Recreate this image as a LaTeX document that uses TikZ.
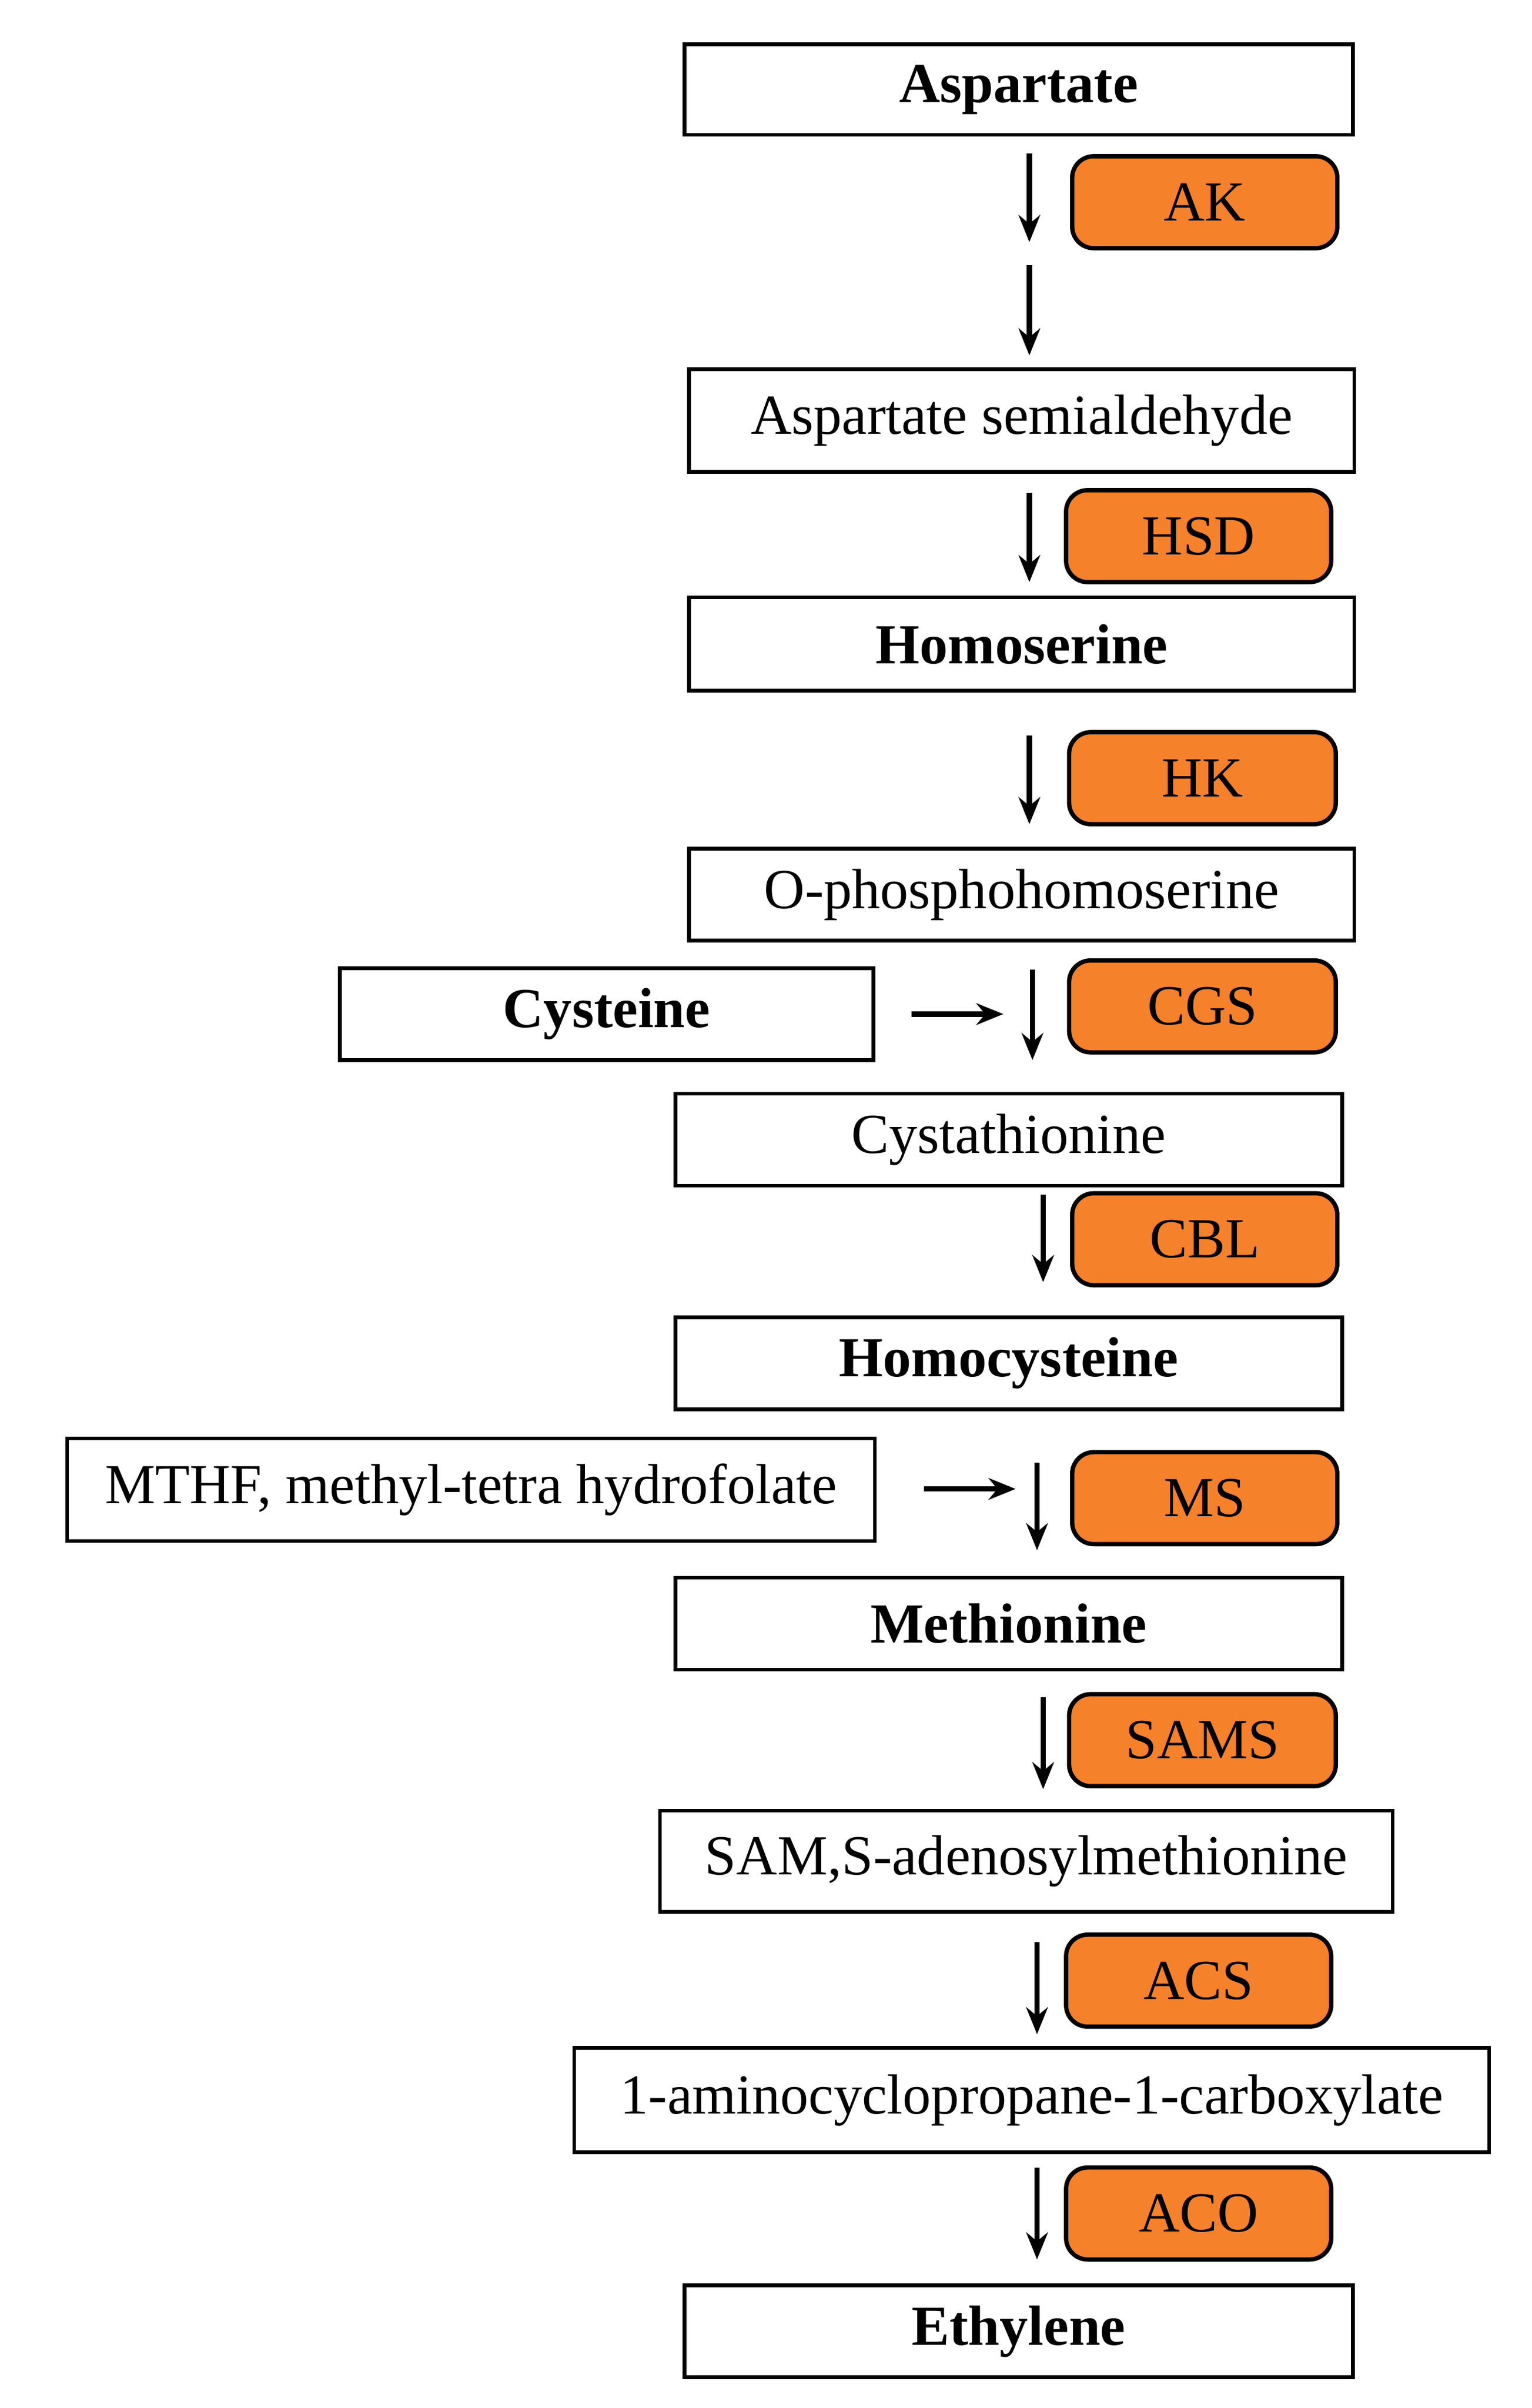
\documentclass[tikz,border=0pt]{standalone}
\usepackage{fontspec}
\setmainfont{Liberation Serif}
\usetikzlibrary{arrows.meta}
\definecolor{enz}{HTML}{F5812A}
\begin{document}
\begin{tikzpicture}[x=0.01cm,y=-0.01cm,
  box/.style={draw,line width=0.7pt,inner sep=0pt,font=\fontsize{10.5}{12}\selectfont},
  enz/.style={box,fill=enz,rounded corners=4pt,line width=0.8pt},
  ar/.style={-{Stealth[length=5pt,width=4pt]},line width=1pt}]
\useasboundingbox (0,0) rectangle (1000,1572);
\node[box,minimum width=4.36cm,minimum height=0.59cm,font=\fontsize{10.5}{12}\selectfont\bfseries] (asp) at (665,58.5) {Aspartate};
\node[enz,minimum width=1.73cm,minimum height=0.6cm] (ak) at (786.5,132) {AK};
\node[box,minimum width=4.34cm,minimum height=0.67cm] (asa) at (667,274.5) {Aspartate semialdehyde};
\node[enz,minimum width=1.73cm,minimum height=0.6cm] (hsd) at (782.5,350) {HSD};
\node[box,minimum width=4.34cm,minimum height=0.61cm,font=\fontsize{10.5}{12}\selectfont\bfseries] (hom) at (667,420.5) {Homoserine};
\node[enz,minimum width=1.74cm,minimum height=0.6cm] (hk) at (785,508) {HK};
\node[box,minimum width=4.34cm,minimum height=0.6cm] (oph) at (667,584) {O-phosphohomoserine};
\node[box,minimum width=3.48cm,minimum height=0.6cm,font=\fontsize{10.5}{12}\selectfont\bfseries] (cys) at (396,662) {Cysteine};
\node[enz,minimum width=1.74cm,minimum height=0.6cm] (cgs) at (785,657) {CGS};
\node[box,minimum width=4.35cm,minimum height=0.6cm] (cysta) at (658.5,744) {Cystathionine};
\node[enz,minimum width=1.73cm,minimum height=0.6cm] (cbl) at (786.5,809) {CBL};
\node[box,minimum width=4.35cm,minimum height=0.6cm,font=\fontsize{10.5}{12}\selectfont\bfseries] (hcy) at (658.5,890) {Homocysteine};
\node[box,minimum width=5.27cm,minimum height=0.67cm] (mthf) at (307.5,972.5) {MTHF, methyl-tetra hydrofolate};
\node[enz,minimum width=1.73cm,minimum height=0.6cm] (ms) at (786.5,978) {MS};
\node[box,minimum width=4.35cm,minimum height=0.6cm,font=\fontsize{10.5}{12}\selectfont\bfseries] (met) at (658.5,1060) {Methionine};
\node[enz,minimum width=1.74cm,minimum height=0.6cm] (sams) at (785,1136) {SAMS};
\node[box,minimum width=4.78cm,minimum height=0.66cm] (sam) at (670,1215) {SAM,S-adenosylmethionine};
\node[enz,minimum width=1.73cm,minimum height=0.6cm] (acs) at (782.5,1293) {ACS};
\node[box,minimum width=5.97cm,minimum height=0.68cm] (acc) at (673.5,1371) {1-aminocyclopropane-1-carboxylate};
\node[enz,minimum width=1.73cm,minimum height=0.6cm] (aco) at (782.5,1445) {ACO};
\node[box,minimum width=4.36cm,minimum height=0.6cm,font=\fontsize{10.5}{12}\selectfont\bfseries] (eth) at (665,1522) {Ethylene};
% arrow endpoints
\coordinate (a1s) at (672,100); \coordinate (a1e) at (672,158);
\coordinate (a2s) at (672,173); \coordinate (a2e) at (672,232);
\coordinate (a3s) at (672,322); \coordinate (a3e) at (672,380);
\coordinate (a4s) at (672,480); \coordinate (a4e) at (672,538);
\coordinate (a5s) at (674,633); \coordinate (a5e) at (674,692);
\coordinate (h1s) at (595,662); \coordinate (h1e) at (655,662);
\coordinate (a6s) at (681,780); \coordinate (a6e) at (681,837);
\coordinate (h2s) at (603,972); \coordinate (h2e) at (663,972);
\coordinate (a7s) at (677,955); \coordinate (a7e) at (677,1012);
\coordinate (a8s) at (681,1108); \coordinate (a8e) at (681,1168);
\coordinate (a9s) at (677,1268); \coordinate (a9e) at (677,1328);
\coordinate (a10s) at (677,1415); \coordinate (a10e) at (677,1475);
\foreach \a in {a1,a2,a3,a4,a5,h1,a6,h2,a7,a8,a9,a10}
  \draw[ar] (\a s) -- (\a e);
\end{tikzpicture}
\end{document}
